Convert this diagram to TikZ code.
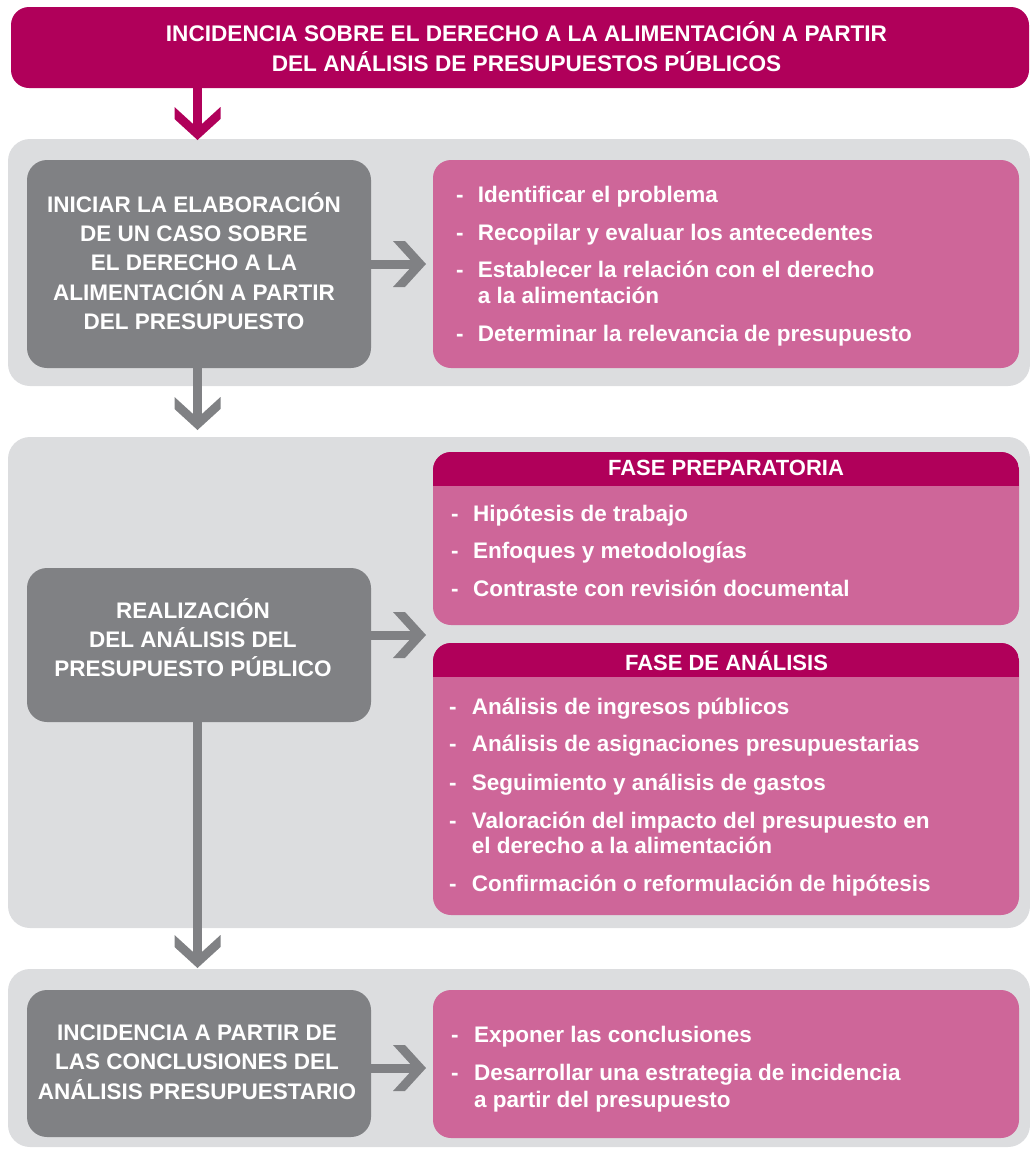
\documentclass[tikz,border=0pt]{standalone}
\usepackage{fontspec}
\setmainfont{Liberation Sans}
\definecolor{mag}{HTML}{B0005A}
\definecolor{pnk}{HTML}{CE6699}
\definecolor{dgray}{HTML}{808184}
\definecolor{lgray}{HTML}{DCDDDF}
\newcommand{\chevron}[3]{\fill[#3, shift={(#1)}, rotate=#2] (0pt,0pt) -- (-21pt,-23pt) -- (-33pt,-23pt) -- (-12pt,0pt) -- (-33pt,23pt) -- (-21pt,23pt) -- cycle;}
\newcommand{\dsh}[1]{\makebox[#1][l]{-}}
\begin{document}
\begin{tikzpicture}[x=1pt,y=-1pt,
  panel/.style={fill=lgray, rounded corners=22pt, inner sep=0pt, outer sep=0pt, minimum width=1022pt},
  dbox/.style={fill=dgray, rounded corners=20pt, inner sep=0pt, outer sep=0pt, minimum width=344pt},
  pbox/.style={fill=pnk, rounded corners=18pt, inner sep=0pt, outer sep=0pt, minimum width=586pt},
  hbox/.style={fill=mag, rounded corners=18pt, inner sep=0pt, outer sep=0pt},
  ttl/.style={text=white, font=\fontsize{22.5}{29.3}\selectfont\bfseries, align=center, inner sep=0pt},
  htl/.style={text=white, font=\fontsize{22.6}{30}\selectfont\bfseries, align=center, inner sep=0pt},
  itm/.style={text=white, font=\fontsize{22.5}{27}\selectfont\bfseries, anchor=base west, inner sep=0pt},
  phase/.style={text=white, font=\fontsize{22}{26}\selectfont\bfseries, anchor=base, inner sep=0pt},
  shaft/.style={line width=9pt}]
\useasboundingbox (0,0) rectangle (1030,1149);

% header
\node[hbox, minimum width=1018pt, minimum height=81pt] (hdr) at (520,47.5) {};
\node[htl] (htxt) at (526.5,46.5) {INCIDENCIA SOBRE EL DERECHO A LA ALIMENTACIÓN A PARTIR\\DEL ANÁLISIS DE PRESUPUESTOS PÚBLICOS};

% panels
\node[panel, minimum height=247pt] (pan1) at (519,262.5) {};
\node[panel, minimum height=491pt] (pan2) at (519,682.5) {};
\node[panel, minimum height=178pt] (pan3) at (519,1058) {};

% dark boxes
\node[dbox, minimum height=208pt] (b1) at (199,264) {};
\node[dbox, minimum height=154pt] (b2) at (199,645) {};
\node[dbox, minimum height=147pt] (b3) at (199,1063.5) {};
\node[ttl] (b1t) at (194,261) {INICIAR LA ELABORACIÓN\\DE UN CASO SOBRE\\EL DERECHO A LA\\ALIMENTACIÓN A PARTIR\\DEL PRESUPUESTO};
\node[ttl] (b2t) at (193,637.5) {REALIZACIÓN\\DEL ANÁLISIS DEL\\PRESUPUESTO PÚBLICO};
\node[ttl] (b3t) at (197,1062) {INCIDENCIA A PARTIR DE\\LAS CONCLUSIONES DEL\\ANÁLISIS PRESUPUESTARIO};

% pink boxes
\node[pbox, minimum height=208pt] (p1) at (726,264) {};
\node[pbox, minimum height=173pt] (p2a) at (726,538.5) {};
\node[pbox, minimum height=272pt] (p2b) at (726,779) {};
\node[pbox, minimum height=148pt] (p3) at (726,1064) {};
\begin{scope}
  \clip[rounded corners=18pt] (p2a.south west) rectangle (p2a.north east);
  \fill[mag] (p2a.north west) rectangle ([yshift=-34pt]p2a.north east);
\end{scope}
\begin{scope}
  \clip[rounded corners=18pt] (p2b.south west) rectangle (p2b.north east);
  \fill[mag] (p2b.north west) rectangle ([yshift=-34pt]p2b.north east);
\end{scope}
\node[phase] (fp) at (726,475.7) {FASE PREPARATORIA};
\node[phase] (fa) at (726.5,670) {FASE DE ANÁLISIS};

% items
\node[itm] (i11) at (456,202.7) {\dsh{21.7pt}Identificar el problema};
\node[itm] (i12) at (456,240) {\dsh{21.7pt}Recopilar y evaluar los antecedentes};
\node[itm] (i13) at (456,277) {\dsh{21.7pt}Establecer la relación con el derecho};
\node[itm] (i13b) at (456,303) {\hspace*{21.7pt}a la alimentación};
\node[itm] (i14) at (456,341.7) {\dsh{21.7pt}Determinar la relevancia de presupuesto};

\node[itm] (i21) at (451,521) {\dsh{22pt}Hipótesis de trabajo};
\node[itm] (i22) at (451,558.3) {\dsh{22pt}Enfoques y metodologías};
\node[itm] (i23) at (451,596.7) {\dsh{22pt}Contraste con revisión documental};

\node[itm] (i31) at (449,714) {\dsh{22.7pt}Análisis de ingresos públicos};
\node[itm] (i32) at (449,751.7) {\dsh{22.7pt}Análisis de asignaciones presupuestarias};
\node[itm] (i33) at (449,790) {\dsh{22.7pt}Seguimiento y análisis de gastos};
\node[itm] (i34) at (449,828.3) {\dsh{22.7pt}Valoración del impacto del presupuesto en};
\node[itm] (i34b) at (449,853.3) {\hspace*{22.7pt}el derecho a la alimentación};
\node[itm] (i35) at (449,891.7) {\dsh{22.7pt}Confirmación o reformulación de hipótesis};

\node[itm] (i41) at (451,1042.7) {\dsh{23pt}Exponer las conclusiones};
\node[itm] (i42) at (451,1080.7) {\dsh{23pt}Desarrollar una estrategia de incidencia};
\node[itm] (i42b) at (451,1107.7) {\hspace*{23pt}a partir del presupuesto};

% arrow tips
\coordinate (a0) at (197.5,140);
\coordinate (a1) at (197.5,430);
\coordinate (a2) at (197.5,968);
\coordinate (r1) at ([xshift=-7pt]p1.west |- 0,264);
\coordinate (r2) at ([xshift=-7pt]p2a.west |- 0,635);
\coordinate (r3) at ([xshift=-7pt]p3.west |- 0,1068);

% connectors
\draw[mag, shaft] (hdr.south -| a0) -- ([yshift=8pt]a0);
\chevron{a0}{-90}{mag}
\draw[dgray, shaft] (b1.south -| a1) -- ([yshift=8pt]a1);
\chevron{a1}{-90}{dgray}
\draw[dgray, shaft] (b2.south -| a2) -- ([yshift=8pt]a2);
\chevron{a2}{-90}{dgray}
\draw[dgray, shaft] (b1.east |- r1) -- ([xshift=-8pt]r1);
\chevron{r1}{0}{dgray}
\draw[dgray, shaft] (b2.east |- r2) -- ([xshift=-8pt]r2);
\chevron{r2}{0}{dgray}
\draw[dgray, shaft] (b3.east |- r3) -- ([xshift=-8pt]r3);
\chevron{r3}{0}{dgray}
\end{tikzpicture}
\end{document}
